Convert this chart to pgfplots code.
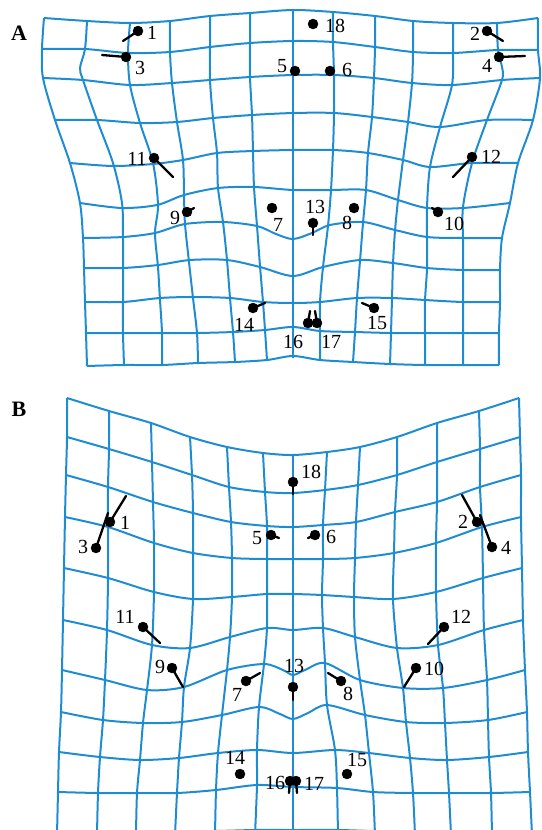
\documentclass[border=0pt]{standalone}
\usepackage{fontspec}
\setmainfont{Liberation Serif}
\usepackage{pgfplots}
\usepackage{pgfplotstable}
\pgfplotsset{compat=1.18}
\definecolor{gridBlue}{HTML}{1E8CD2}

% landmarks: dot (x,y), displacement (u,v), label position (lx,ly)
\pgfplotstableread{
lab x y u v lx ly
1 138 31 -15 10 152 33
2 487 31 16 10 475 34
3 126 57 -24 -2 140 68
4 499 57 26 -1 487 66
5 295 71 0 0 282 66
6 330 71 0 0 347 70
7 272 208 0 0 278 225
8 354 208 0 0 347 223
9 187 212 7 -4 175 218
10 438 212 -6 -4 454 224
11 154 158 19 19 137 159
12 472 157 -19 20 491 157
13 313 223 0 12 315 207
14 253 308 12 -5 244 325
15 374 308 -12 -5 377 323
16 308 323 2 -12 293 342
17 317 323 -2 -12 331 342
18 313 24 0 0 335 26
}\lmA

\pgfplotstableread{
lab x y u v lx ly
1 110 522 16 -26 125 523
2 477 522 -15 -27 463 522
3 96 548 12 -35 83 547
4 492 547 -12 -32 506 548
5 271 535 8 3 257 538
6 315 535 -7 3 331 537
7 246 681 14 -8 237 695
8 341 681 -13 -8 348 694
9 172 668 11 19 160 667
10 416 668 -12 19 434 669
11 143 627 17 16 125 617
12 444 627 -16 17 461 617
13 293 687 0 13 294 666
14 240 774 0 0 235 758
15 347 774 0 0 357 760
16 290 781 -1 12 275 783
17 296 781 1 12 314 784
18 293 482 0 12 311 472
}\lmB

\pgfplotsset{
  warp/.style={gridBlue, line width=2pt, line join=round, smooth, tension=0.5, no marks},
  vec/.style={black, line width=2.3pt, line cap=round, no marks,
    quiver={u=\thisrow{u}, v=\thisrow{v}}},
  dots/.style={only marks, mark=*, mark size=5pt, black},
  labs/.style={only marks, mark=none, point meta=explicit symbolic, nodes near coords,
    every node near coord/.append style={anchor=center, inner sep=0pt, text=black,
      font=\fontsize{20}{23}\selectfont}},
}

\begin{document}
\begin{tikzpicture}
\begin{axis}[
  width=541pt, height=830pt, scale only axis,
  xmin=0, xmax=541, ymin=0, ymax=830,
  y dir=reverse, hide axis, clip=true,
]
\path (rel axis cs:0,0) rectangle (rel axis cs:1,1);

% ---------- panel A: vertical lines
\addplot[warp] coordinates {(44,18) (42,49) (43,78) (55,120) (70,163) (80,203) (83,238) (84,268) (85,302) (86,333) (87,366)};
\addplot[warp] coordinates {(87,21) (85,49) (80,68) (83,80) (97,120) (113,163) (122,203) (123,238) (123,268) (123,302) (123,333) (124,365)};
\addplot[warp] coordinates {(130,23) (128,53) (130,85) (140,123) (153,163) (158,205) (155,233) (158,267) (160,300) (162,333) (162,365)};
\addplot[warp] coordinates {(170,21) (170,52) (172,83) (177,122) (183,160) (184,196) (185,224) (189,262) (193,298) (197,333) (198,363)};
\addplot[warp] coordinates {(210,16) (210,47) (210,80) (213,118) (217,153) (218,188) (223,222) (227,260) (230,298) (233,332) (235,362)};
\addplot[warp] coordinates {(250,13) (250,43) (250,77) (252,115) (253,151) (254,187) (257,226) (260,266) (263,302) (265,330) (267,360)};
\addplot[warp] coordinates {(293,9) (293,358)};
\addplot[warp] coordinates {(333,12) (333,42) (334,75) (334,113) (333,150) (331,190) (328,226) (323,267) (320,302) (320,332) (320,360)};
\addplot[warp] coordinates {(375,16) (375,47) (374,78) (372,117) (368,153) (366,190) (363,223) (360,261) (357,298) (355,332) (353,362)};
\addplot[warp] coordinates {(413,21) (413,52) (412,83) (408,122) (403,160) (398,200) (395,231) (393,264) (392,299) (391,333) (390,365)};
\addplot[warp] coordinates {(453,23) (453,53) (452,85) (440,127) (430,167) (427,207) (427,237) (427,269) (425,301) (425,333) (425,365)};
\addplot[warp] coordinates {(497,23) (498,50) (502,67) (502,80) (487,120) (472,163) (463,207) (463,238) (463,270) (463,302) (463,333) (463,365)};
\addplot[warp] coordinates {(538,18) (538,50) (540,78) (533,120) (518,163) (510,203) (502,238) (500,270) (500,302) (499,333) (499,365)};

% ---------- panel A: horizontal lines
\addplot[warp] coordinates {(44,18) (87,21) (130,23) (170,21) (210,16) (250,13) (293,10) (333,12) (375,16) (413,21) (453,23) (497,23) (538,18)};
\addplot[warp] coordinates {(42,49) (85,49) (128,53) (170,52) (210,47) (250,43) (293,41) (333,42) (375,47) (413,52) (453,53) (498,50) (538,50)};
\addplot[warp] coordinates {(43,78) (83,80) (130,85) (172,83) (210,80) (250,77) (293,75) (334,75) (374,78) (412,83) (452,85) (502,80) (540,78)};
\addplot[warp] coordinates {(55,120) (97,120) (140,123) (177,122) (213,118) (252,115) (293,113) (334,113) (372,117) (408,122) (440,127) (487,120) (533,120)};
\addplot[warp] coordinates {(70,163) (113,166) (153,164) (183,160) (217,153) (253,151) (293,150) (333,150) (368,153) (403,160) (430,167) (472,163) (518,163)};
\addplot[warp] coordinates {(80,203) (122,208) (157,205) (184,195) (218,188) (254,187) (293,190) (331,190) (366,190) (398,200) (427,208) (463,208) (510,203)};
\addplot[warp] coordinates {(83,238) (123,237) (155,233) (185,224) (223,222) (257,226) (276,234) (293,239) (312,233) (330,225) (363,222) (395,230) (427,237) (463,238) (502,238)};
\addplot[warp] coordinates {(84,268) (123,268) (158,265) (190,260) (227,260) (260,267) (293,276) (323,267) (360,260) (393,263) (427,268) (463,270) (500,270)};
\addplot[warp] coordinates {(85,302) (123,302) (160,298) (193,297) (230,298) (263,302) (293,303) (320,302) (357,298) (392,298) (425,300) (463,302) (500,302)};
\addplot[warp] coordinates {(86,333) (123,333) (162,333) (197,333) (233,332) (265,330) (293,327) (320,331) (355,332) (391,333) (425,333) (463,333) (499,333)};
\addplot[warp] coordinates {(87,366) (124,365) (162,365) (198,363) (235,362) (267,360) (293,356) (320,360) (353,362) (390,364) (425,365) (463,365) (499,365)};

% ---------- panel B: vertical lines
\addplot[warp] coordinates {(67,398) (67,437) (66,475) (65,517) (64,568) (63,620) (62,670) (61,712) (59,752) (58,792) (57,835)};
\addplot[warp] coordinates {(109,411) (109,449) (108,487) (108,527) (108,578) (107,630) (105,680) (103,720) (100,757) (98,793) (97,835)};
\addplot[warp] coordinates {(151,423) (152,462) (153,502) (154,543) (154,592) (152,645) (147,690) (143,723) (140,760) (137,793) (136,835)};
\addplot[warp] coordinates {(190,437) (192,475) (193,513) (193,553) (193,599) (190,648) (184,687) (182,722) (179,758) (177,793) (175,835)};
\addplot[warp] coordinates {(227,447) (229,487) (231,522) (232,558) (232,597) (230,637) (227,670) (222,715) (218,753) (216,790) (215,835)};
\addplot[warp] coordinates {(263,453) (265,492) (267,526) (267,559) (267,594) (267,628) (264,664) (259,707) (257,750) (257,785) (255,835)};
\addplot[warp] coordinates {(293,455) (293,835)};
\addplot[warp] coordinates {(327,452) (325,490) (323,525) (323,559) (322,595) (323,628) (325,663) (327,705) (335,750) (337,788) (338,835)};
\addplot[warp] coordinates {(360,447) (358,485) (356,522) (355,558) (354,597) (355,637) (360,680) (365,715) (369,753) (373,792) (375,835)};
\addplot[warp] coordinates {(397,437) (397,475) (395,512) (394,553) (393,599) (397,648) (403,688) (406,722) (410,758) (413,793) (415,835)};
\addplot[warp] coordinates {(437,423) (437,462) (437,502) (436,543) (436,592) (438,645) (443,688) (445,723) (447,760) (449,793) (451,835)};
\addplot[warp] coordinates {(479,411) (480,449) (480,487) (482,527) (483,578) (484,630) (487,680) (488,720) (489,757) (491,793) (492,835)};
\addplot[warp] coordinates {(519,398) (520,437) (521,475) (521,517) (522,568) (523,620) (525,670) (527,712) (528,752) (530,792) (532,835)};

% ---------- panel B: horizontal lines
\addplot[warp] coordinates {(67,398) (109,411) (151,423) (190,437) (227,447) (263,453) (293,455) (327,452) (360,447) (397,437) (437,423) (479,411) (519,398)};
\addplot[warp] coordinates {(67,437) (109,449) (152,462) (192,475) (229,487) (265,492) (293,493) (325,490) (358,485) (397,475) (437,462) (480,449) (520,437)};
\addplot[warp] coordinates {(66,475) (108,487) (153,502) (193,513) (231,522) (267,526) (293,527) (323,525) (356,522) (395,512) (437,502) (480,487) (521,475)};
\addplot[warp] coordinates {(65,517) (108,527) (154,543) (193,553) (232,558) (267,559) (293,559) (323,559) (355,558) (394,553) (436,543) (482,527) (521,517)};
\addplot[warp] coordinates {(64,568) (108,578) (154,592) (193,599) (232,597) (267,594) (293,594) (322,595) (354,597) (393,599) (436,592) (483,578) (522,568)};
\addplot[warp] coordinates {(63,620) (107,630) (152,645) (190,648) (230,637) (267,628) (293,630) (323,628) (355,637) (397,648) (438,645) (484,630) (523,620)};
\addplot[warp] coordinates {(62,670) (105,680) (147,690) (184,687) (227,670) (264,664) (283,670) (293,675) (305,670) (325,663) (360,680) (403,688) (443,688) (487,680) (525,670)};
\addplot[warp] coordinates {(61,712) (103,720) (143,723) (182,722) (222,715) (259,707) (280,714) (293,719) (308,713) (327,705) (365,715) (406,722) (445,723) (488,720) (527,712)};
\addplot[warp] coordinates {(59,752) (100,757) (140,760) (179,758) (218,753) (257,750) (293,753) (335,750) (369,753) (410,758) (447,760) (489,757) (528,752)};
\addplot[warp] coordinates {(58,792) (98,793) (137,793) (177,793) (216,790) (257,785) (293,787) (337,788) (373,792) (413,793) (449,793) (491,793) (530,792)};
\addplot[warp] coordinates {(57,831) (97,831) (136,831) (175,831) (215,831) (255,830) (293,830) (338,830) (375,831) (415,831) (451,831) (492,831) (532,831)};

% ---------- landmarks
\addplot[vec] table[x=x, y=y] {\lmA};
\addplot[dots] table[x=x, y=y] {\lmA};
\addplot[labs] table[x=lx, y=ly, meta=lab] {\lmA};
\addplot[vec] table[x=x, y=y] {\lmB};
\addplot[dots] table[x=x, y=y] {\lmB};
\addplot[labs] table[x=lx, y=ly, meta=lab] {\lmB};

\node[font=\fontsize{22}{24}\selectfont\bfseries] at (axis cs:19,33) {A};
\node[font=\fontsize{22}{24}\selectfont\bfseries] at (axis cs:19,409) {B};
\end{axis}
\end{tikzpicture}
\end{document}
